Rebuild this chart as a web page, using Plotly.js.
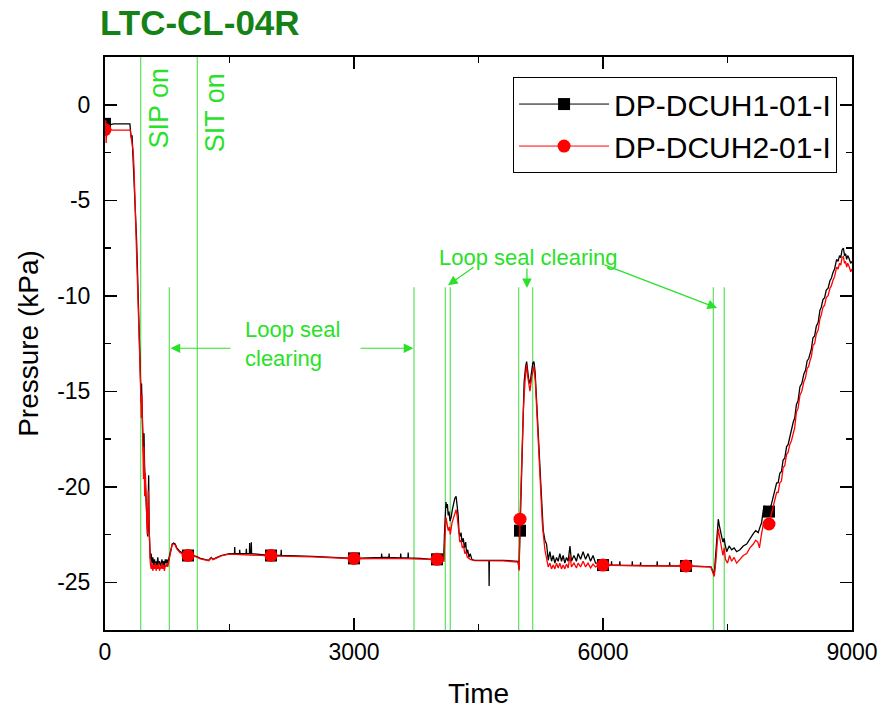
<!DOCTYPE html>
<html>
<head>
<meta charset="utf-8">
<script src="https://cdn.plot.ly/plotly-3.0.1.min.js"></script>
<style>html,body{margin:0;padding:0;background:#fff;}#chart{width:884px;height:717px;}</style>
</head>
<body>
<div id="chart"></div>
<script>
// ---- data ----
const chartTitle = 'LTC-CL-04R';
const seriesNames = ['DP-DCUH1-01-I', 'DP-DCUH2-01-I'];

// DP-DCUH1-01-I : [time (s), pressure (kPa)]
const dcuh1 = [[0,-1.0],[12,-0.85],[18,-1.1],[100,-1.0],[200,-1.0],[300,-1.0],[310,-1.5],[320,-1.8],[326,-1.6],[332,-2.2],[340,-2.3],[350,-3.2],[360,-4.5],[370,-5.8],[380,-7.0],[390,-8.5],[400,-10.0],[410,-11.6],[420,-13.2],[430,-14.8],[436,-15.6],[440,-14.6],[446,-16.6],[458,-17.6],[465,-18.3],[470,-17.2],[476,-18.8],[484,-19.6],[492,-20.4],[500,-21.0],[508,-21.8],[514,-22.6],[520,-21.0],[526,-19.4],[532,-22.2],[538,-23.3],[546,-23.8],[556,-23.5],[566,-24.0],[576,-23.7],[586,-24.1],[596,-23.8],[606,-24.2],[616,-23.9],[626,-24.1],[636,-23.7],[646,-24.2],[656,-23.9],[666,-24.0],[676,-24.2],[686,-23.8],[696,-24.1],[706,-23.9],[716,-24.2],[726,-23.8],[736,-24.0],[746,-23.8],[756,-24.0],[768,-23.8],[780,-23.5],[795,-23.2],[810,-23.0],[825,-22.95],[845,-23.0],[865,-23.2],[885,-23.3],[905,-23.4],[950,-23.5],[1000,-23.6],[1050,-23.6],[1100,-23.65],[1150,-23.75],[1200,-23.8],[1250,-23.85],[1280,-23.7],[1300,-23.8],[1350,-23.7],[1400,-23.6],[1450,-23.55],[1500,-23.5],[1560,-23.5],[1563,-23.15],[1566,-23.5],[1620,-23.5],[1623,-23.3],[1626,-23.5],[1700,-23.5],[1703,-23.25],[1706,-23.5],[1740,-23.5],[1743,-22.95],[1746,-23.5],[1760,-23.5],[1763,-22.9],[1766,-23.5],[2000,-23.6],[2120,-23.6],[2123,-23.3],[2126,-23.6],[2500,-23.65],[3000,-23.75],[3330,-23.7],[3333,-23.5],[3336,-23.7],[3420,-23.7],[3423,-23.5],[3426,-23.7],[3560,-23.72],[3563,-23.5],[3566,-23.72],[3650,-23.72],[3653,-23.45],[3656,-23.72],[3800,-23.75],[4000,-23.8],[4080,-23.85],[4090,-22.5],[4100,-21.5],[4108,-20.8],[4115,-21.1],[4125,-20.9],[4135,-21.5],[4145,-21.3],[4157,-21.8],[4170,-21.6],[4185,-21.2],[4200,-20.9],[4215,-20.6],[4230,-20.5],[4240,-20.9],[4255,-21.5],[4265,-22.4],[4277,-22.6],[4290,-22.4],[4300,-22.9],[4317,-22.7],[4330,-23.2],[4345,-22.9],[4357,-23.5],[4370,-23.3],[4385,-23.7],[4400,-23.5],[4420,-23.8],[4450,-23.85],[4625,-23.85],[4628,-25.2],[4631,-23.85],[4800,-23.85],[4975,-23.9],[4988,-24.3],[5000,-22.3],[5012,-19.5],[5030,-16.5],[5050,-14.5],[5068,-13.7],[5080,-13.45],[5092,-13.9],[5105,-14.4],[5120,-14.6],[5138,-13.9],[5155,-13.5],[5168,-13.45],[5182,-14.0],[5200,-15.5],[5220,-17.0],[5250,-19.8],[5280,-22.3],[5300,-22.8],[5320,-23.0],[5340,-23.85],[5360,-23.4],[5380,-23.9],[5400,-23.6],[5420,-24.0],[5440,-23.7],[5460,-23.9],[5480,-23.5],[5500,-23.9],[5520,-23.6],[5540,-24.0],[5560,-23.7],[5580,-23.9],[5602,-23.1],[5620,-23.9],[5650,-23.6],[5680,-23.9],[5700,-23.5],[5730,-23.8],[5760,-23.4],[5790,-23.8],[5820,-23.5],[5850,-23.9],[5880,-23.6],[5910,-24.0],[5950,-24.0],[6000,-24.1],[6100,-24.1],[6103,-23.9],[6106,-24.1],[6200,-24.1],[6203,-23.9],[6206,-24.1],[6350,-24.12],[6353,-23.9],[6356,-24.12],[6450,-24.12],[6453,-23.95],[6456,-24.12],[6650,-24.13],[6653,-23.9],[6656,-24.13],[6800,-24.14],[6803,-23.95],[6806,-24.14],[7000,-24.15],[7300,-24.2],[7340,-24.6],[7360,-23.5],[7375,-22.3],[7389,-21.7],[7400,-22.0],[7415,-22.4],[7429,-22.6],[7445,-22.9],[7460,-22.7],[7470,-23.0],[7490,-23.4],[7520,-23.1],[7550,-23.3],[7580,-23.2],[7610,-23.4],[7650,-23.3],[7690,-23.1],[7731,-23.0],[7770,-22.7],[7811,-22.45],[7840,-22.3],[7870,-22.4],[7892,-22.1],[7910,-21.9],[7932,-21.2],[7950,-21.0],[7970,-21.3],[8000,-21.3],[8030,-20.9],[8060,-20.3],[8092,-19.8],[8110,-19.8],[8130,-19.3],[8150,-19.2],[8170,-18.6],[8190,-18.5],[8212,-17.9],[8230,-17.8],[8250,-17.4],[8270,-17.1],[8293,-16.6],[8310,-16.4],[8330,-15.7],[8350,-15.5],[8373,-14.76],[8395,-14.6],[8420,-14.1],[8440,-13.9],[8460,-13.4],[8478,-13.3],[8494,-13.0],[8510,-12.8],[8530,-12.2],[8550,-12.1],[8570,-11.6],[8592,-11.4],[8614,-10.75],[8630,-10.6],[8650,-10.2],[8670,-10.1],[8690,-9.7],[8712,-9.6],[8735,-9.2],[8750,-9.1],[8770,-8.8],[8790,-8.6],[8815,-8.1],[8832,-8.2],[8850,-7.9],[8865,-8.0],[8880,-7.6],[8896,-7.5],[8910,-7.9],[8922,-7.8],[8936,-8.1],[8948,-7.9],[8960,-8.0],[8972,-8.2],[8985,-8.3],[9000,-8.2]];

// DP-DCUH2-01-I : [time (s), pressure (kPa)]
const dcuh2 = [[0,-1.3],[8,-0.8],[14,-2.0],[20,-1.3],[100,-1.33],[200,-1.33],[305,-1.33],[312,-1.6],[320,-1.9],[330,-2.2],[340,-2.45],[350,-3.4],[360,-4.7],[370,-6.0],[380,-7.2],[390,-8.7],[400,-10.2],[410,-11.8],[420,-13.4],[430,-15.0],[438,-16.4],[444,-15.2],[450,-17.4],[458,-18.1],[464,-19.6],[470,-17.9],[478,-20.5],[486,-19.3],[494,-21.0],[502,-21.4],[510,-22.5],[516,-21.3],[522,-20.2],[530,-22.0],[538,-23.6],[546,-24.0],[556,-24.3],[566,-24.0],[576,-24.4],[586,-24.1],[596,-24.3],[606,-24.0],[616,-24.4],[626,-24.1],[636,-24.3],[646,-24.0],[656,-24.4],[666,-24.2],[676,-24.3],[686,-24.0],[696,-24.3],[706,-24.1],[716,-24.4],[726,-24.1],[736,-24.2],[746,-24.0],[756,-24.2],[768,-23.9],[780,-23.6],[795,-23.2],[810,-23.0],[825,-23.0],[845,-23.05],[865,-23.25],[885,-23.35],[905,-23.45],[950,-23.55],[1000,-23.6],[1050,-23.62],[1100,-23.67],[1150,-23.77],[1200,-23.82],[1250,-23.87],[1280,-23.72],[1300,-23.82],[1350,-23.72],[1400,-23.62],[1450,-23.57],[1500,-23.53],[2000,-23.62],[2500,-23.67],[3000,-23.77],[3500,-23.75],[4000,-23.82],[4082,-23.9],[4092,-23.0],[4100,-22.2],[4108,-21.6],[4120,-21.9],[4135,-22.3],[4150,-22.1],[4160,-22.5],[4180,-21.9],[4200,-21.6],[4215,-21.4],[4230,-21.2],[4245,-21.6],[4260,-22.4],[4275,-22.9],[4290,-22.8],[4305,-23.2],[4320,-23.1],[4335,-23.5],[4350,-23.4],[4365,-23.7],[4385,-23.75],[4400,-23.8],[4450,-23.87],[4800,-23.88],[4980,-23.95],[4990,-24.4],[5000,-21.7],[5018,-18.5],[5040,-16.0],[5060,-14.5],[5078,-13.6],[5092,-14.2],[5105,-14.7],[5120,-15.0],[5140,-14.3],[5158,-13.8],[5168,-13.7],[5185,-14.5],[5210,-16.5],[5240,-19.5],[5270,-22.0],[5300,-23.3],[5320,-23.8],[5340,-24.2],[5360,-24.0],[5380,-24.3],[5400,-24.1],[5420,-24.3],[5440,-24.0],[5460,-24.25],[5480,-24.0],[5500,-24.3],[5520,-24.1],[5540,-24.3],[5560,-24.05],[5580,-24.25],[5602,-23.6],[5620,-24.2],[5650,-24.0],[5680,-24.25],[5700,-24.0],[5730,-24.2],[5760,-23.9],[5790,-24.2],[5820,-24.0],[5850,-24.25],[5880,-24.05],[5910,-24.2],[5950,-24.1],[6000,-24.1],[6500,-24.15],[7000,-24.15],[7300,-24.2],[7340,-24.7],[7360,-23.9],[7375,-22.8],[7389,-22.2],[7400,-22.5],[7415,-22.9],[7429,-23.3],[7445,-23.6],[7460,-23.2],[7475,-23.8],[7500,-24.0],[7525,-23.6],[7550,-23.9],[7580,-23.7],[7610,-24.0],[7650,-23.8],[7690,-23.6],[7731,-23.5],[7770,-23.2],[7811,-23.0],[7840,-22.8],[7865,-22.9],[7885,-23.2],[7905,-22.6],[7930,-22.0],[7960,-22.1],[8000,-21.95],[8030,-21.4],[8060,-20.8],[8092,-20.3],[8110,-20.3],[8130,-19.8],[8150,-19.7],[8170,-19.0],[8190,-18.9],[8212,-18.3],[8230,-18.2],[8250,-17.8],[8270,-17.6],[8293,-17.1],[8310,-16.9],[8330,-16.1],[8350,-15.9],[8373,-15.2],[8395,-15.0],[8420,-14.5],[8440,-14.3],[8460,-13.8],[8478,-13.7],[8494,-13.4],[8510,-13.2],[8530,-12.6],[8550,-12.5],[8570,-12.0],[8592,-11.8],[8614,-11.2],[8630,-11.0],[8650,-10.6],[8670,-10.5],[8690,-10.1],[8712,-10.0],[8735,-9.6],[8750,-9.5],[8770,-9.2],[8790,-9.0],[8815,-8.5],[8832,-8.6],[8850,-8.3],[8865,-8.4],[8880,-8.0],[8896,-7.95],[8910,-8.3],[8922,-8.2],[8936,-8.5],[8948,-8.3],[8960,-8.4],[8972,-8.6],[8985,-8.74],[9000,-8.6]];

// symbol markers drawn every 1000 s
const markerTimes = [0, 1000, 2000, 3000, 4000, 5000, 6000, 7000, 8000];
const markerDCUH1 = [-1.0, -23.6, -23.6, -23.75, -23.8, -22.3, -24.1, -24.15, -21.3];
const markerDCUH2 = [-1.3, -23.6, -23.6, -23.75, -23.8, -21.7, -24.1, -24.15, -21.95];

// event lines (time, top of line in kPa)
const eventTimes = [430, 775, 1112, 3723, 4100, 4160, 4984, 5153, 7329, 7461];
const eventTops  = [2.5, -9.55, 2.5, -9.55, -9.55, -9.55, -9.55, -9.55, -9.55, -9.55];

const xTickVals = [0, 3000, 6000, 9000];
const yTickVals = [0, -5, -10, -15, -20, -25];

// ---- drawing ----
const FONT = 'Arial, "Liberation Sans", sans-serif';
const GREEN_TXT = 'rgb(40,225,40)';
const GREEN_LINE = 'rgb(95,222,95)';

const traces = [
  {x: dcuh1.map(d => d[0]), y: dcuh1.map(d => d[1]), type: 'scatter', mode: 'lines',
   line: {color: 'black', width: 1.3}, showlegend: false, hoverinfo: 'skip'},
  {x: markerTimes, y: markerDCUH1, type: 'scatter', mode: 'markers',
   marker: {symbol: 'square', color: 'black', size: 12}, showlegend: false},
  {x: dcuh2.map(d => d[0]), y: dcuh2.map(d => d[1]), type: 'scatter', mode: 'lines',
   line: {color: 'red', width: 1.3}, showlegend: false, hoverinfo: 'skip'},
  {x: markerTimes, y: markerDCUH2, type: 'scatter', mode: 'markers',
   marker: {symbol: 'circle', color: 'red', size: 13}, showlegend: false},
  {x: [null], y: [null], type: 'scatter', mode: 'lines+markers', name: seriesNames[0],
   line: {color: 'black', width: 1}, marker: {symbol: 'square', color: 'black', size: 12}},
  {x: [null], y: [null], type: 'scatter', mode: 'lines+markers', name: seriesNames[1],
   line: {color: 'red', width: 1}, marker: {symbol: 'circle', color: 'red', size: 13}}
];

const shapes = eventTimes.map((t, i) => ({
  type: 'line', xref: 'x', yref: 'y', x0: t, x1: t, y0: -27.5, y1: eventTops[i],
  line: {color: GREEN_LINE, width: 1.2}, layer: 'below'
}));

function arrow(x, y, ax, ay) {
  return {x: x, y: y, ax: ax, ay: ay, xref: 'x', yref: 'y', axref: 'x', ayref: 'y',
    text: '', showarrow: true, arrowhead: 2, arrowsize: 1.6, arrowwidth: 1.2,
    arrowcolor: GREEN_TXT, standoff: 0, startstandoff: 0};
}

const annotations = [
  {x: 651, y: -0.2, xref: 'x', yref: 'y', text: 'SIP on', textangle: -90, showarrow: false,
   font: {family: FONT, size: 27, color: GREEN_TXT}},
  {x: 1325, y: -0.4, xref: 'x', yref: 'y', text: 'SIT on', textangle: -90, showarrow: false,
   font: {family: FONT, size: 27, color: GREEN_TXT}},
  {x: 2253, y: -12.5, xref: 'x', yref: 'y', text: 'Loop seal<br>clearing', showarrow: false,
   align: 'left', font: {family: FONT, size: 22, color: GREEN_TXT}},
  {x: 5108, y: -8.0, xref: 'x', yref: 'y', text: 'Loop seal clearing', showarrow: false,
   font: {family: FONT, size: 22, color: GREEN_TXT}},
  arrow(790, -12.75, 1530, -12.75),
  arrow(3715, -12.75, 3060, -12.75),
  arrow(4133, -9.45, 4458, -8.45),
  arrow(5084, -9.6, 5084, -8.5),
  arrow(7374, -10.64, 6000, -8.35)
];

const axisCommon = {
  showline: true, linecolor: 'black', linewidth: 2, mirror: 'allticks',
  ticks: 'inside', ticklen: 12, tickwidth: 1.5, tickcolor: 'black',
  showgrid: false, zeroline: false,
  tickfont: {family: FONT, size: 23, color: 'black'}
};

const layout = {
  width: 884, height: 717,
  paper_bgcolor: 'white', plot_bgcolor: 'white',
  margin: {l: 105, r: 32, t: 57, b: 87},
  title: {text: '<b>' + chartTitle + '</b>', x: 100 / 884, xref: 'container', xanchor: 'left',
          y: 1 - 23 / 717, yref: 'container', yanchor: 'middle',
          font: {family: FONT, size: 35, color: 'rgb(20,130,20)'}},
  xaxis: Object.assign({}, axisCommon, {
    range: [0, 9000], tickvals: xTickVals, ticktext: xTickVals.map(String),
    minor: {ticks: 'inside', ticklen: 6, tickwidth: 1.5, tickcolor: 'black', dtick: 1500, tick0: 0, showgrid: false},
    ticklabelstandoff: 0,
    title: {text: 'Time', font: {family: FONT, size: 28, color: 'black'}, standoff: 20}
  }),
  yaxis: Object.assign({}, axisCommon, {
    range: [-27.5, 2.5], tickvals: yTickVals, ticktext: yTickVals.map(String),
    minor: {ticks: 'inside', ticklen: 6, tickwidth: 1.5, tickcolor: 'black', dtick: 2.5, tick0: 0, showgrid: false},
    ticklabelstandoff: 8,
    title: {text: 'Pressure (kPa)', font: {family: FONT, size: 28, color: 'black'}, standoff: 10}
  }),
  legend: {x: 0.98, y: 0.965, xanchor: 'right', yanchor: 'top', bgcolor: 'white',
           bordercolor: 'black', borderwidth: 1, font: {family: FONT, size: 30, color: 'black'},
           tracegroupgap: 0, itemwidth: 90},
  shapes: shapes,
  annotations: annotations,
  showlegend: true
};

Plotly.newPlot('chart', traces, layout, {displayModeBar: false, staticPlot: true});
</script>
</body>
</html>
